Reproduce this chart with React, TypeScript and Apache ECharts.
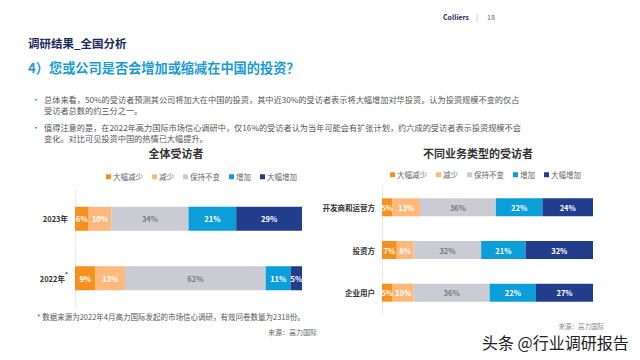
import React, { useEffect, useRef } from "react";
import * as echarts from "echarts";

const seriesNames = ["大幅减少", "减少", "保持不变", "增加", "大幅增加"];
const seriesColors = ["#F7901E", "#FDB97B", "#CBCBD3", "#0B9ED9", "#233D8D"];
const labelColors = ["#ffffff", "#ffffff", "#7a7a7a", "#ffffff", "#ffffff"];

const leftCategories = ["2023年", "2022年"];
// values per series (大幅减少, 减少, 保持不变, 增加, 大幅增加) for each year
const leftValues = [
  [6, 9],
  [10, 13],
  [34, 62],
  [21, 11],
  [29, 5],
];

const rightCategories = ["开发商和运营方", "投资方", "企业用户"];
const rightValues = [
  [5, 7, 5],
  [13, 8, 10],
  [36, 32, 36],
  [22, 21, 22],
  [24, 32, 27],
];

const FONT = "'Noto Sans CJK SC', 'Noto Sans', sans-serif";

export default function App() {
  const ref = useRef<HTMLDivElement>(null);
  useEffect(() => {
    if (!ref.current) return;
    const chart = echarts.init(ref.current, undefined, { renderer: "svg" });

    const makeSeries = (values: number[][], axisIndex: number, barWidth: number) =>
      seriesNames.map((name, i) => ({
        name,
        type: "bar",
        stack: "s" + axisIndex,
        xAxisIndex: axisIndex,
        yAxisIndex: axisIndex,
        barWidth,
        data: values[i],
        itemStyle: { color: seriesColors[i] },
        label: {
          show: true,
          position: "inside",
          formatter: "{c}%",
          color: labelColors[i],
          fontSize: 7.5,
          fontWeight: "bold",
          fontFamily: FONT,
        },
      }));

    const legendCommon = {
      data: seriesNames,
      itemWidth: 5,
      itemHeight: 5,
      itemGap: 9,
      icon: "rect",
      textStyle: { fontSize: 7.5, color: "#666", fontFamily: FONT, padding: [0, 0, 0, -3] },
      selectedMode: false,
    };

    const yAxisCommon = {
      type: "category",
      inverse: true,
      axisLine: { show: true, lineStyle: { color: "#e9e9e9", width: 1 } },
      axisTick: { show: false },
      axisLabel: {
        fontSize: 7.5,
        fontWeight: "bold",
        color: "#333",
        fontFamily: FONT,
        margin: 7,
      },
    };

    const textEl = (x: number, y: number, text: string, style: any = {}) => ({
      type: "text",
      x,
      y,
      style: {
        text,
        fontFamily: FONT,
        fontSize: 8,
        fill: "#555",
        verticalAlign: "middle",
        ...style,
      },
    });

    chart.setOption({
      animation: false,
      backgroundColor: "#ffffff",
      textStyle: { fontFamily: FONT },
      legend: [
        { ...legendCommon, left: 101, top: 168 },
        { ...legendCommon, left: 385, top: 166 },
      ],
      grid: [
        { left: 75, top: 189, width: 227, height: 119 },
        { left: 382, top: 186, width: 211, height: 128 },
      ],
      xAxis: [
        { type: "value", gridIndex: 0, min: 0, max: 100, show: false },
        { type: "value", gridIndex: 1, min: 0, max: 100, show: false },
      ],
      yAxis: [
        {
          ...yAxisCommon,
          gridIndex: 0,
          data: leftCategories,
          axisLabel: {
            ...yAxisCommon.axisLabel,
            formatter: (v: string) => (v === "2022年" ? "{a|" + v + "}{s|*}" : "{a|" + v + "}"),
            rich: {
              a: { fontSize: 7.5, fontWeight: "bold", color: "#333", fontFamily: FONT, lineHeight: 14 },
              s: { fontSize: 6, color: "#333", fontFamily: FONT, lineHeight: 14, verticalAlign: "top" },
            },
          },
        },
        { ...yAxisCommon, gridIndex: 1, data: rightCategories },
      ],
      series: [...makeSeries(leftValues, 0, 24), ...makeSeries(rightValues, 1, 18)],
      graphic: [
        textEl(443, 17, "Colliers", { fontSize: 7, fontWeight: "bold", fill: "#1b2d5c" }),
        textEl(476, 17, "|", { fontSize: 7, fill: "#999" }),
        textEl(487, 17, "18", { fontSize: 7, fill: "#666" }),
        textEl(28, 43, "调研结果_全国分析", { fontSize: 11.5, fontWeight: "bold", fill: "#1b2a5e" }),
        textEl(28, 67, "4）您或公司是否会增加或缩减在中国的投资？", {
          fontSize: 13.2,
          fontWeight: "bold",
          fill: "#1a9bd7",
        }),
        textEl(32, 99, "•", { fontSize: 8, fill: "#666" }),
        textEl(
          44,
          99,
          "总体来看，50%的受访者预测其公司将加大在中国的投资，其中近30%的受访者表示将大幅增加对华投资。认为投资规模不变的仅占",
          { fontSize: 8.2 }
        ),
        textEl(44, 110, "受访者总数的约三分之一。", { fontSize: 8.2 }),
        textEl(32, 127, "•", { fontSize: 8, fill: "#666" }),
        textEl(
          44,
          127,
          "值得注意的是，在2022年高力国际市场信心调研中，仅16%的受访者认为当年可能会有扩张计划，约六成的受访者表示投资规模不会",
          { fontSize: 8.2 }
        ),
        textEl(44, 138, "变化。对比可见投资中国的热情已大幅提升。", { fontSize: 8.2 }),
        textEl(176, 153, "全体受访者", { fontSize: 11, fontWeight: "bold", fill: "#333", align: "center" }),
        textEl(478, 153, "不同业务类型的受访者", {
          fontSize: 11,
          fontWeight: "bold",
          fill: "#333",
          align: "center",
        }),
        textEl(37, 316, "* 数据来源为2022年4月高力国际发起的市场信心调研，有效问卷数量为2318份。", {
          fontSize: 7.5,
        }),
        textEl(317, 332, "来源：高力国际", { fontSize: 7, fill: "#666", align: "right" }),
        textEl(604, 326, "来源：高力国际", { fontSize: 6.5, fill: "#888", align: "right" }),
        textEl(482, 342, "头条 @行业调研报告", {
          fontSize: 16,
          fill: "#222",
          stroke: "#ffffff",
          lineWidth: 2,
        }),
      ],
    });
    return () => chart.dispose();
  }, []);
  return (
    <div
      ref={ref}
      style={{ position: "absolute", left: 0, top: 0, width: 640, height: 360 }}
    />
  );
}
